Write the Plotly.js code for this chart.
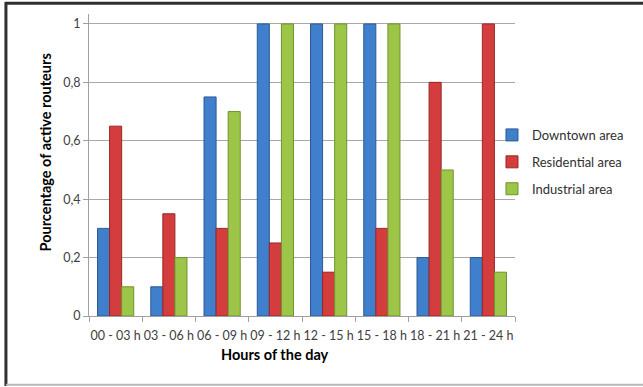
<!DOCTYPE html>
<html>
<head>
<meta charset="utf-8">
<script src="https://cdn.plot.ly/plotly-3.0.1.min.js"></script>
<style>
  html, body { margin: 0; padding: 0; background: #fff; }
  #chart { width: 643px; height: 387px; }
</style>
</head>
<body>
<div id="chart"></div>
<script>
// Time slots of the day
const hours = ["00 - 03 h", "03 - 06 h", "06 - 09 h", "09 - 12 h",
               "12 - 15 h", "15 - 18 h", "18 - 21 h", "21 - 24 h"];

// Share of active routers per area
const downtown    = [0.30, 0.10, 0.75, 1.00, 1.00, 1.00, 0.20, 0.20];
const residential = [0.65, 0.35, 0.30, 0.25, 0.15, 0.30, 0.80, 1.00];
const industrial  = [0.10, 0.20, 0.70, 1.00, 1.00, 1.00, 0.50, 0.15];

const seriesNames = ["Downtown area", "Residential area", "Industrial area"];

const FONT = "Lato, 'Open Sans', sans-serif";

function barTrace(name, values, fill, edge, group) {
  return {
    type: "bar",
    name: name,
    x: hours,
    y: values,
    legendgroup: group,
    marker: { color: fill, line: { color: edge, width: 1 } },
    hoverinfo: "x+y+name"
  };
}

const data = [
  barTrace(seriesNames[0], downtown,    "#3f7fcb", "#2a5a96", "g1"),
  barTrace(seriesNames[1], residential, "#d43d3d", "#9a2727", "g2"),
  barTrace(seriesNames[2], industrial,  "#9dc648", "#6f9230", "g3")
];

const layout = {
  width: 643,
  height: 387,
  paper_bgcolor: "#ffffff",
  plot_bgcolor: "#ffffff",
  separators: ", ",
  font: { family: FONT, size: 12, color: "#404040" },
  margin: { l: 89, r: 128, t: 14, b: 71, pad: 0 },
  barmode: "group",
  bargap: 0.32,
  bargroupgap: 0,
  showlegend: true,
  legend: {
    x: 0.946, xanchor: "left",
    y: 0.51, yanchor: "middle",
    font: { family: FONT, size: 13, color: "#303030" },
    tracegroupgap: 7,
    itemwidth: 30,
    bgcolor: "rgba(0,0,0,0)"
  },
  xaxis: {
    type: "category",
    tickson: "boundaries",
    tickangle: 0,
    ticks: "outside",
    ticklen: 5,
    tickcolor: "#a0a0a0",
    ticklabelstandoff: 8,
    showline: true,
    linecolor: "#a0a0a0",
    linewidth: 1,
    showgrid: false,
    tickfont: { family: FONT, size: 12.5, color: "#404040" }
  },
  yaxis: {
    range: [0, 1.034],
    dtick: 0.2,
    tick0: 0,
    ticks: "outside",
    ticklen: 5,
    tickcolor: "#a0a0a0",
    showline: true,
    linecolor: "#a0a0a0",
    linewidth: 1,
    showgrid: true,
    gridcolor: "#a8a8a8",
    gridwidth: 1,
    zeroline: false,
    tickfont: { family: FONT, size: 12.5, color: "#404040" }
  },
  annotations: [
    // axis titles
    { text: "<b>Hours of the day</b>", xref: "paper", yref: "paper",
      x: 0.437, y: -0.126, xanchor: "center", yanchor: "middle", showarrow: false,
      font: { family: FONT, size: 14.5, color: "#000" } },
    { text: "<b>Pourcentage of active routeurs</b>", xref: "paper", yref: "paper",
      x: -0.102, y: 0.54, xanchor: "center", yanchor: "middle", textangle: -90, showarrow: false,
      font: { family: FONT, size: 14.5, color: "#000" } }
  ],
  shapes: [
    // frame around the chart
    { type: "line", xref: "paper", yref: "paper", x0: -0.197, x1: 1.31, y0: 1.036, y1: 1.036,
      line: { color: "#303030", width: 3 } },
    { type: "line", xref: "paper", yref: "paper", x0: -0.195, x1: -0.195, y0: -0.232, y1: 1.04,
      line: { color: "#303030", width: 3 } },
    { type: "line", xref: "paper", yref: "paper", x0: -0.195, x1: 1.31, y0: -0.228, y1: -0.228,
      line: { color: "#b8b8b8", width: 2 } }
  ]
};

Plotly.newPlot("chart", data, layout, { displayModeBar: false, staticPlot: true });
</script>
</body>
</html>
